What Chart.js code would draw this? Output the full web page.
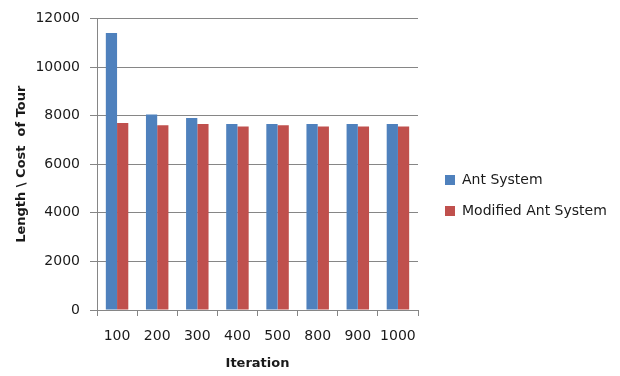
<!DOCTYPE html>
<html>
<head>
<meta charset="utf-8">
<script src="https://cdn.jsdelivr.net/npm/chart.js@4/dist/chart.umd.min.js"></script>
<style>
  html, body { margin: 0; padding: 0; background: #ffffff; }
  #wrap { width: 620px; height: 376px; position: relative; }
</style>
</head>
<body>
<div id="wrap"><canvas id="chart" width="620" height="376"></canvas></div>
<script>
// Tour length per iteration count for both algorithms
const iterations = ['100', '200', '300', '400', '500', '800', '900', '1000'];
const antSystem = [11400, 8050, 7900, 7650, 7650, 7650, 7650, 7650];
const modifiedAntSystem = [7700, 7600, 7650, 7550, 7600, 7550, 7550, 7550];
const seriesNames = ['Ant System', 'Modified Ant System'];
const yTicks = [0, 2000, 4000, 6000, 8000, 10000, 12000];

const FONT = 'DejaVu Sans';
const TEXT = '#1a1a1a';
const GRID = '#868686';

// Leaves some white space between the plot and the legend entries and
// lets the legend run to the right edge of the canvas
const legendGap = {
  id: 'legendGap',
  afterLayout(chart) {
    const lg = chart.legend;
    if (!lg) return;
    const shift = 10;
    lg.left += shift;
    lg.right = chart.width;
    lg.width = lg.right - lg.left;
  }
};

new Chart(document.getElementById('chart'), {
  type: 'bar',
  data: {
    labels: iterations,
    datasets: [
      { label: seriesNames[0], data: antSystem, backgroundColor: '#4F81BD', borderWidth: 0 },
      { label: seriesNames[1], data: modifiedAntSystem, backgroundColor: '#C0504D', borderWidth: 0 }
    ]
  },
  options: {
    responsive: false,
    animation: false,
    devicePixelRatio: 1,
    layout: { padding: { top: 15, right: 82, bottom: 0, left: 0 } },
    datasets: { bar: { barPercentage: 1.0, categoryPercentage: 0.56 } },
    plugins: {
      tooltip: { enabled: false },
      legend: {
        position: 'right',
        align: 'center',
        maxWidth: 120,
        labels: {
          boxWidth: 10,
          boxHeight: 10,
          padding: 17,
          color: TEXT,
          font: { family: FONT, size: 14 }
        }
      }
    },
    scales: {
      x: {
        offset: true,
        grid: { offset: true, drawOnChartArea: false, drawTicks: true, tickLength: 6, color: GRID },
        border: { color: GRID, width: 1 },
        ticks: { color: TEXT, font: { family: FONT, size: 14 }, padding: 12, maxRotation: 0 },
        title: {
          display: true, text: 'Iteration', color: TEXT,
          font: { family: FONT, size: 13, weight: 'bold' },
          padding: { top: 0, bottom: 5 }
        },
        afterFit(scale) { scale.height = 66; }
      },
      y: {
        min: 0,
        max: 12000,
        afterBuildTicks(scale) { scale.ticks = yTicks.map(v => ({ value: v })); },
        grid: { color: GRID, tickLength: 7, drawTicks: true },
        border: { color: GRID, width: 1 },
        ticks: {
          color: TEXT, font: { family: FONT, size: 14 }, padding: 10,
          callback: v => String(v)
        },
        title: {
          display: true, text: 'Length \\ Cost  of Tour', color: TEXT,
          font: { family: FONT, size: 13, weight: 'bold' },
          padding: { top: 14, bottom: 0 }
        },
        afterFit(scale) { scale.width = 97; }
      }
    }
  },
  plugins: [legendGap]
});
</script>
</body>
</html>
